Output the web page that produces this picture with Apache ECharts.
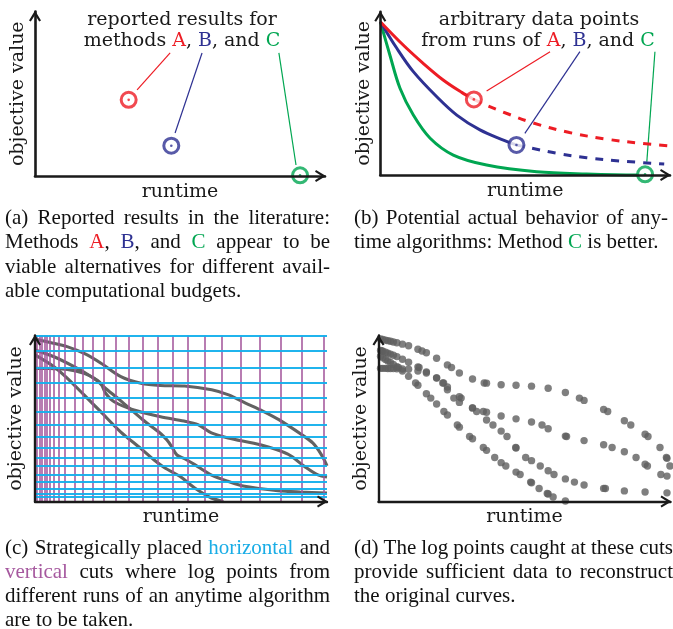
<!DOCTYPE html>
<html>
<head>
<meta charset="utf-8">
<script src="https://cdn.jsdelivr.net/npm/echarts@6/dist/echarts.min.js"></script>
<style>
  html, body { margin: 0; padding: 0; background: #ffffff; }
  #chart { width: 673px; height: 629px; }
</style>
</head>
<body>
<div id="chart"></div>
<script>
// ---------- (a)/(b): reported single results (runtime, objective) ----------
const reportedA = [32.3, 46.3];
const reportedB = [47.0, 18.4];
const reportedC = [91.4, 0.4];

// ---------- (b): anytime traces; solid up to the reported point, dashed after ----------
const traceA = [[0, 93.9], [7.9, 79.6], [14.8, 68.4], [21.7, 58.2], [28.1, 50.6], [32.3, 46.3]];
const traceAafter = [[32.3, 46.3], [37.0, 42.5], [43.5, 37.8], [52.5, 32.0], [65.3, 26.0], [77.9, 22.0], [90.5, 19.3], [99.7, 17.8]];
const traceB = [[0, 93.9], [5.7, 77.6], [11.4, 63.3], [19.5, 47.9], [26.4, 36.7], [34.4, 27.6], [42.5, 21.4], [47.0, 18.4]];
const traceBafter = [[47.0, 18.4], [52.3, 16.4], [60.9, 13.3], [71.2, 10.6], [82.7, 8.6], [98.0, 6.7]];
const traceC = [[0, 93.9], [3.3, 73.5], [6.8, 53.1], [11.4, 36.7], [17.2, 22.5], [25.2, 12.2], [36.7, 6.1], [54.0, 2.0], [71.2, 0.6], [88.5, 0.0], [91.4, 0.0]];

// callout leaders: [near the mark, towards the heading]
const leaderAinA = [[35.2, 52.3], [46.6, 74.8]];
const leaderBinA = [[48.3, 26.1], [57.6, 74.8]];
const leaderCinA = [[90.0, 6.7], [84.1, 74.8]];
const leaderAinB = [[36.7, 51.4], [58.6, 75.5]];
const leaderBinB = [[49.9, 25.5], [68.9, 75.5]];
const leaderCinB = [[92.0, 8.1], [94.8, 75.5]];

// ---------- (c): cut positions ----------
const cutTimes = [0.7, 1.5, 2.4, 3.2, 4.1, 5.1, 6.3, 8.2, 10.3, 13.5, 16.4, 19.9, 23.6, 27.7, 32.2, 37.0, 42.0, 47.1, 52.4, 58.1, 64.0, 70.4, 77.1, 84.2, 91.3, 98.8];
const cutValues = [100, 90.7, 80.7, 71.4, 62.3, 54.2, 46.1, 39.2, 32.5, 26.5, 21.4, 16.3, 11.7, 7.8, 4.8, 2.7];

// ---------- (c): four runs of an anytime algorithm ----------
const run1 = [[0, 97.9], [5.2, 95.8], [11.0, 93.3], [17.2, 88.9], [22.6, 83.3], [29.4, 75.2], [36.3, 71.2], [42.9, 69.9], [51.2, 69.6], [60.5, 67.3], [66.3, 64.2], [72.1, 59.3], [78.0, 54.5], [83.5, 49.3], [91.4, 40.2], [95.2, 35.2], [97.3, 30.4], [98.9, 25.6], [100, 21.4]];
const run2 = [[0, 91.3], [6.5, 87.2], [13.4, 81.2], [19.2, 75.3], [22.5, 71.2], [24.2, 65.2], [27.1, 60.1], [33.9, 55.1], [43.0, 51.1], [51.0, 48.5], [55.8, 46.3], [60.4, 41.3], [66.1, 38.3], [77.5, 34.0], [86.6, 28.5], [92.4, 21.0], [96.9, 16.0], [100, 14.8]];
const run3 = [[0, 80.2], [5.1, 80.1], [11.1, 79.6], [16.8, 77.2], [20.2, 74.2], [24.0, 68.4], [29.1, 61.1], [37.0, 49.1], [42.8, 41.3], [45.2, 37.0], [46.9, 32.8], [48.6, 28.0], [51.4, 25.6], [54.7, 22.2], [60.3, 16.1], [66.1, 12.2], [71.8, 9.2], [83.2, 6.5], [90.8, 5.7], [100, 5.1]];
const run4 = [[0, 88.3], [6.5, 81.2], [11.1, 74.2], [16.8, 64.2], [22.5, 54.1], [29.3, 42.0], [36.2, 32.0], [40.8, 25.0], [44.5, 20.2], [49.6, 15.2], [54.7, 8.1], [60.4, 2.1], [64.5, 0]];

// ---------- (d): log points caught at the cuts ----------
const logged1 = [[0.7, 97.9], [1.5, 97.6], [2.4, 97.2], [3.2, 96.9], [4.1, 96.5], [5.1, 96.1], [6.3, 95.6], [8.2, 94.8], [10.3, 93.8], [13.5, 91.7], [14.9, 90.7], [16.4, 89.6], [19.9, 86.3], [23.6, 82.3], [25.0, 80.7], [27.7, 77.4], [32.2, 73.8], [36.2, 71.4], [37.0, 71.3], [42.0, 70.3], [47.1, 70.0], [52.4, 69.5], [58.1, 68.2], [64.0, 65.7], [68.8, 62.3], [70.4, 60.9], [77.1, 55.4], [78.5, 54.2], [84.2, 48.6], [86.4, 46.1], [91.3, 40.5], [92.3, 39.2], [96.4, 32.5], [98.6, 26.5], [98.8, 26.0], [99.8, 21.4]];
const logged2 = [[0.7, 91.0], [1.1, 90.7], [1.5, 90.5], [2.4, 89.9], [3.2, 89.4], [4.1, 88.8], [5.1, 88.1], [6.3, 87.3], [8.2, 85.7], [10.3, 83.9], [13.5, 81.1], [13.9, 80.7], [16.4, 78.1], [19.9, 74.4], [22.3, 71.4], [23.6, 67.3], [25.8, 62.3], [27.7, 59.7], [32.2, 56.4], [35.9, 54.2], [37.0, 53.8], [42.0, 51.5], [47.1, 49.8], [52.4, 47.9], [56.0, 46.1], [58.1, 43.8], [64.0, 39.4], [64.4, 39.2], [70.4, 36.7], [77.1, 34.2], [80.0, 32.5], [84.2, 30.0], [88.2, 26.5], [91.3, 22.4], [92.1, 21.4], [96.7, 16.3], [98.8, 15.3]];
const logged3 = [[0.7, 80.2], [1.5, 80.2], [2.4, 80.2], [3.2, 80.1], [4.1, 80.1], [5.1, 80.1], [6.3, 80.0], [8.2, 79.8], [10.3, 79.7], [13.5, 78.6], [16.4, 77.4], [19.9, 74.5], [22.0, 71.4], [23.6, 69.0], [27.7, 63.1], [28.3, 62.3], [32.2, 56.4], [33.6, 54.2], [37.0, 49.1], [39.2, 46.1], [42.0, 42.4], [44.0, 39.2], [47.0, 32.5], [47.1, 32.2], [50.4, 26.5], [52.4, 24.6], [55.4, 21.4], [58.1, 18.5], [60.1, 16.3], [64.0, 13.6], [67.1, 11.7], [70.4, 9.9], [77.1, 7.9], [77.7, 7.8], [84.2, 6.4], [91.3, 5.7], [98.8, 5.2]];
const logged4 = [[0.7, 87.5], [1.5, 86.6], [2.4, 85.6], [3.2, 84.7], [4.1, 83.7], [5.1, 82.6], [6.3, 81.2], [6.8, 80.7], [8.2, 78.6], [10.3, 75.4], [12.7, 71.4], [13.5, 70.0], [16.4, 64.9], [17.9, 62.3], [19.9, 58.7], [22.4, 54.2], [23.6, 52.1], [27.0, 46.1], [27.7, 44.8], [31.2, 39.2], [32.2, 37.8], [35.9, 32.5], [37.0, 30.8], [39.8, 26.5], [42.0, 23.4], [43.6, 21.4], [47.1, 17.7], [48.5, 16.3], [52.1, 11.7], [52.4, 11.3], [55.0, 7.8], [57.8, 4.8], [58.1, 4.5], [59.8, 2.7], [64.0, 0.3]];

// ---------- styling ----------
const RED = '#ED1C24', BLUE = '#2E3192', GREEN = '#00A651';
const CUT_H = '#14B0EC', CUT_V = '#A2549A';
const CAP_CYAN = '#19ADE6', CAP_PURPLE = '#A6599F';
const RUN_GRAY = '#626262', DOT_GRAY = '#5f5f5f', INK = '#1a1a1a';
const PANEL_FONT = 'DejaVu Serif';
const CAPTION_FONT = 'Liberation Serif';
const PANEL_SIZE = 19;
const CAPTION_SIZE = 21;
const CHEVRON = 'path://M6,0L12,10L10.2,11L6,4.4L1.8,11L0,10Z';

const grids = [
  { left: 35, top: 11.5, width: 290, height: 164.5 },
  { left: 380.3, top: 11.7, width: 289.7, height: 163.3 },
  { left: 35, top: 335.5, width: 292, height: 166 },
  { left: 378.5, top: 335.5, width: 292, height: 166 }
];

function axisLine(width) {
  return {
    show: true, onZero: false,
    symbol: ['none', CHEVRON], symbolSize: [12, 11], symbolOffset: [0, -4.5],
    lineStyle: { color: INK, width: width }
  };
}
function makeX(i, gap, lw) {
  return {
    type: 'value', gridIndex: i, min: 0, max: 100, z: 10,
    axisLine: axisLine(lw), axisTick: { show: false }, axisLabel: { show: false }, splitLine: { show: false },
    name: 'runtime', nameLocation: 'middle', nameGap: gap,
    nameTextStyle: { fontFamily: PANEL_FONT, fontSize: PANEL_SIZE, color: INK }
  };
}
function makeY(i, gap, lw) {
  return {
    type: 'value', gridIndex: i, min: 0, max: 100, z: 10,
    axisLine: axisLine(lw), axisTick: { show: false }, axisLabel: { show: false }, splitLine: { show: false },
    name: 'objective value', nameLocation: 'middle', nameGap: gap, nameRotate: 90,
    nameTextStyle: { fontFamily: PANEL_FONT, fontSize: PANEL_SIZE, color: INK }
  };
}

const series = [];
function on(i, s) { s.xAxisIndex = i; s.yAxisIndex = i; s.animation = false; s.silent = true; series.push(s); return s; }
function plainLine(i, data, color, width, z, extra) {
  return on(i, Object.assign({
    type: 'line', data: data, showSymbol: false, symbol: 'none', clip: false, z: z,
    lineStyle: { color: color, width: width }
  }, extra || {}));
}
function ring(i, point, color) {
  on(i, { type: 'scatter', data: [point], symbol: 'circle', symbolSize: 15, z: 6,
    itemStyle: { color: '#ffffff', borderColor: color, borderWidth: 3 } });
  on(i, { type: 'scatter', data: [point], symbol: 'circle', symbolSize: 2.6, z: 7,
    itemStyle: { color: color } });
}

// (a) reported results only
plainLine(0, leaderAinA, RED, 1.2, 3);
plainLine(0, leaderBinA, BLUE, 1.2, 3);
plainLine(0, leaderCinA, GREEN, 1.2, 3);
ring(0, reportedA, RED);
ring(0, reportedB, BLUE);
ring(0, reportedC, GREEN);

// (b) whole anytime behaviour
plainLine(1, traceC, GREEN, 3, 4, { smooth: 0.35 });
plainLine(1, traceB, BLUE, 3, 4, { smooth: 0.35 });
plainLine(1, traceA, RED, 3, 4, { smooth: 0.35 });
plainLine(1, traceAafter, RED, 3, 4, { smooth: 0.35, lineStyle: { color: RED, width: 3, type: [8, 8] } });
plainLine(1, traceBafter, BLUE, 3, 4, { smooth: 0.35, lineStyle: { color: BLUE, width: 3, type: [8, 8] } });
plainLine(1, leaderAinB, RED, 1.2, 3);
plainLine(1, leaderBinB, BLUE, 1.2, 3);
plainLine(1, leaderCinB, GREEN, 1.2, 3);
ring(1, reportedA, RED);
ring(1, reportedB, BLUE);
ring(1, reportedC, GREEN);

// (c) cuts and runs
on(2, { type: 'line', data: [], z: 1,
  markLine: { silent: true, symbol: ['none', 'none'], animation: false, label: { show: false },
    lineStyle: { color: CUT_V, width: 1.7, type: 'solid', opacity: 0.9 },
    data: cutTimes.map(function (t) { return { xAxis: t }; }) } });
on(2, { type: 'line', data: [], z: 2,
  markLine: { silent: true, symbol: ['none', 'none'], animation: false, label: { show: false },
    lineStyle: { color: CUT_H, width: 2, type: 'solid', opacity: 0.95 },
    data: cutValues.map(function (v) { return { yAxis: v }; }) } });
[run1, run2, run3, run4].forEach(function (run) {
  plainLine(2, run, '#ffffff', 6.4, 3, { smooth: 0.3 });
});
[run1, run2, run3, run4].forEach(function (run) {
  plainLine(2, run, RUN_GRAY, 3.1, 4, { smooth: 0.3 });
});

// (d) logged points
[logged1, logged2, logged3, logged4].forEach(function (pts) {
  on(3, { type: 'scatter', data: pts, symbol: 'circle', symbolSize: 7.4, z: 4, clip: false,
    itemStyle: { color: DOT_GRAY } });
});

// ---------- texts ----------
function richSet(size, family) {
  function mk(c) { return { fontSize: size, fontFamily: family, fill: c }; }
  return { r: mk(RED), b: mk(BLUE), g: mk(GREEN), h: mk(CAP_CYAN), v: mk(CAP_PURPLE) };
}
const measureCtx = document.createElement('canvas').getContext('2d');
function widthOf(s, size, family) {
  measureCtx.font = size + 'px "' + family + '"';
  return measureCtx.measureText(s).width;
}
function stripMarkup(s) { return s.replace(/\{\w+\|([^}]*)\}/g, '$1'); }

const graphics = [];
function centeredText(str, x, y) {
  graphics.push({ type: 'text', x: x, y: y, silent: true,
    style: { text: str, fontSize: PANEL_SIZE, fontFamily: PANEL_FONT, fill: INK,
      align: 'center', verticalAlign: 'middle', textAlign: 'center', textVerticalAlign: 'middle',
      rich: richSet(PANEL_SIZE, PANEL_FONT) } });
}
// one caption line; justified lines spread their words over the full column width
function captionLine(str, x, y, right, justify) {
  const words = str.split(' ');
  const widths = words.map(function (w) { return widthOf(stripMarkup(w), CAPTION_SIZE, CAPTION_FONT); });
  const total = widths.reduce(function (a, b) { return a + b; }, 0);
  const gap = (justify && words.length > 1) ? (right - x - total) / (words.length - 1)
    : widthOf(' ', CAPTION_SIZE, CAPTION_FONT);
  let cx = x;
  words.forEach(function (w, k) {
    graphics.push({ type: 'text', x: cx, y: y, silent: true,
      style: { text: w, fontSize: CAPTION_SIZE, fontFamily: CAPTION_FONT, fill: '#111111',
        align: 'left', verticalAlign: 'middle', textAlign: 'left', textVerticalAlign: 'middle',
        rich: richSet(CAPTION_SIZE, CAPTION_FONT) } });
    cx += widths[k] + gap;
  });
}

centeredText('reported results for', 182, 20);
centeredText('methods {r|A}, {b|B}, and {g|C}', 182, 41.5);
centeredText('arbitrary data points', 539, 20);
centeredText('from runs of {r|A}, {b|B}, and {g|C}', 538, 41.5);

const capA = ['(a) Reported results in the literature:', 'Methods {r|A}, {b|B}, and {g|C} appear to be', 'viable alternatives for different avail-', 'able computational budgets.'];
const capB = ['(b) Potential actual behavior of any-', 'time algorithms: Method {g|C} is better.'];
const capC = ['(c) Strategically placed {h|horizontal} and', '{v|vertical} cuts where log points from', 'different runs of an anytime algorithm', 'are to be taken.'];
const capD = ['(d) The log points caught at these cuts', 'provide sufficient data to reconstruct', 'the original curves.'];

function caption(lines, x, top, right) {
  lines.forEach(function (l, k) { captionLine(l, x, top + k * 24.3, right, k < lines.length - 1); });
}
caption(capA, 5, 218.5, 330);
caption(capB, 354, 218.5, 668);
caption(capC, 5, 548, 330);
caption(capD, 354, 548, 673);

const chart = echarts.init(document.getElementById('chart'), null, { renderer: 'canvas' });
chart.setOption({
  backgroundColor: '#ffffff',
  animation: false,
  grid: grids,
  xAxis: [makeX(0, 7, 2.6), makeX(1, 7, 2.6), makeX(2, 6, 2.4), makeX(3, 6, 2.4)],
  yAxis: [makeY(0, 7, 2.6), makeY(1, 7, 2.6), makeY(2, 9, 2.4), makeY(3, 8, 2.4)],
  series: series,
  graphic: graphics
});
</script>
</body>
</html>
